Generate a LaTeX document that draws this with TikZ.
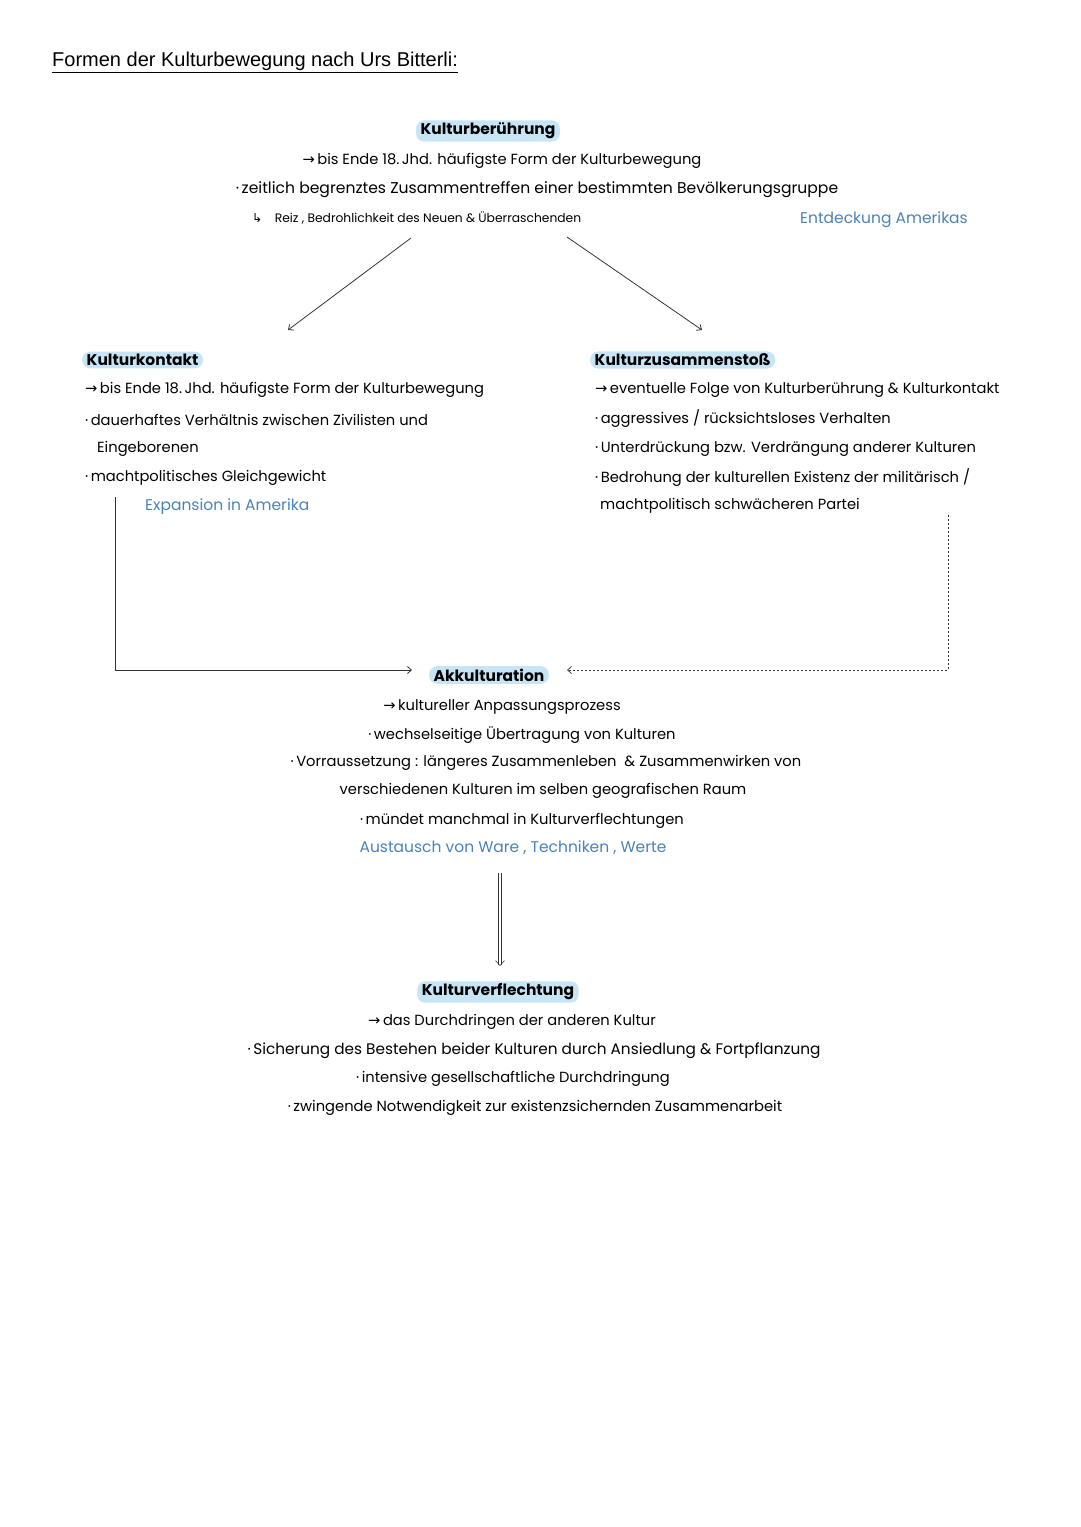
\documentclass[tikz,border=0pt]{standalone}
\usepackage{fontspec}
\setmainfont{Poppins}
\newfontfamily\titlefont{Liberation Sans}
\newfontfamily\sym{DejaVu Sans}
\usetikzlibrary{arrows.meta}
\definecolor{hl}{HTML}{C8E5F5}
\definecolor{note}{HTML}{4A82B6}
\definecolor{ln}{HTML}{333333}
\newcommand{\ar}{{\sym →}\,}
\newcommand{\bu}{·\,}
\begin{document}
\begin{tikzpicture}[x=1pt,y=-1pt,
  body/.style={inner sep=0pt, font=\fontsize{14.7}{17}\selectfont, text=black},
  wide/.style={font=\fontsize{15.6}{18}\selectfont},
  head/.style={fill=hl, rounded corners=8pt, inner xsep=4.5pt, inner ysep=2.5pt, font=\fontsize{15.5}{18}\selectfont\bfseries},
  notetext/.style={inner sep=0pt, font=\fontsize{15.5}{18}\selectfont, text=note},
  smalltext/.style={inner sep=0pt, font=\fontsize{12.3}{14}\selectfont},
  conn/.style={draw=ln, line width=0.8pt, -{Straight Barb[length=4pt,width=7pt]}},
  dconn/.style={draw=ln, line width=0.7pt, dash pattern=on 2pt off 2pt, -{Straight Barb[length=4pt,width=7pt]}},
]
\useasboundingbox (0,0) rectangle (1080,1527);

% title
\node[anchor=west, inner sep=0pt, font=\titlefont\fontsize{20}{23}\selectfont] (title) at (52,62) {\underline{Formen der Kulturbewegung nach Urs Bitterli:}};

% Kulturberuehrung
\node[head] (kb) at (488,131) {Kulturberührung};
\node[body] (kb1) at (502,161) {\ar bis Ende 18.\,Jhd. häufigste Form der Kulturbewegung};
\node[body, wide] (kb2) at (537,190) {\bu zeitlich begrenztes Zusammentreffen einer bestimmten Bevölkerungsgruppe};
\node[smalltext, anchor=west] (kb3) at (252,218) {{\sym ↳}\quad Reiz , Bedrohlichkeit des Neuen \& Überraschenden};
\node[notetext] (kbn) at (884,220) {Entdeckung Amerikas};

% Kulturkontakt
\node[head, anchor=west] (kk) at (82,360) {Kulturkontakt};
\node[body, anchor=west] (kk1) at (85,390) {\ar bis Ende 18.\,Jhd. häufigste Form der Kulturbewegung};
\node[body, anchor=west] (kk2) at (85,420) {\bu dauerhaftes Verhältnis zwischen Zivilisten und};
\node[body, anchor=west] (kk3) at (97,449) {Eingeborenen};
\node[body, anchor=west] (kk4) at (85,478) {\bu machtpolitisches Gleichgewicht};
\node[notetext, anchor=west] (kkn) at (145,507) {Expansion in Amerika};

% Kulturzusammenstoss
\node[head, anchor=west] (kz) at (590,360) {Kulturzusammenstoß};
\node[body, anchor=west] (kz1) at (595,390) {\ar eventuelle Folge von Kulturberührung \& Kulturkontakt};
\node[body, anchor=west] (kz2) at (595,419) {\bu aggressives / rücksichtsloses Verhalten};
\node[body, anchor=west] (kz3) at (595,449) {\bu Unterdrückung bzw. Verdrängung anderer Kulturen};
\node[body, anchor=west] (kz4) at (595,478) {\bu Bedrohung der kulturellen Existenz der militärisch /};
\node[body, anchor=west] (kz5) at (600,506) {machtpolitisch schwächeren Partei};

% Akkulturation
\node[head] (ak) at (489,675) {Akkulturation};
\node[body] (ak1) at (502,707) {\ar kultureller Anpassungsprozess};
\node[body] (ak2) at (522,735) {\bu wechselseitige Übertragung von Kulturen};
\node[body] (ak3) at (546,763) {\bu Vorraussetzung : längeres Zusammenleben \ \& Zusammenwirken von};
\node[body] (ak4) at (543,791) {verschiedenen Kulturen im selben geografischen Raum};
\node[body] (ak5) at (522,821) {\bu mündet manchmal in Kulturverflechtungen};
\node[notetext] (akn) at (513,848) {Austausch von Ware , Techniken , Werte};

% Kulturverflechtung
\node[head] (kv) at (498,992) {Kulturverflechtung};
\node[body] (kv1) at (512,1022) {\ar das Durchdringen der anderen Kultur};
\node[body, font=\fontsize{15.3}{18}\selectfont] (kv2) at (534,1051) {\bu Sicherung des Bestehen beider Kulturen durch Ansiedlung \& Fortpflanzung};
\node[body] (kv3) at (513,1079) {\bu intensive gesellschaftliche Durchdringung};
\node[body] (kv4) at (535,1108) {\bu zwingende Notwendigkeit zur existenzsichernden Zusammenarbeit};

% connector coordinates
\coordinate (s1) at (411,238);
\coordinate (e1) at (288,330);
\coordinate (s2) at (567,237);
\coordinate (e2) at (702,330);
\coordinate (lstart) at (115,497);
\coordinate (lend) at (412,670);
\coordinate (rstart) at (948,515);
\coordinate (rend) at (567,670);
\coordinate (dstart) at (500,873);
\coordinate (dend) at (500,966);

\draw[conn] (s1) -- (e1);
\draw[conn] (s2) -- (e2);
\draw[conn] (lstart) |- (lend);
\draw[dconn] (rstart) |- (rend);
\draw[draw=ln, line width=0.6pt, double, double distance=2pt, -{Straight Barb[length=5pt,width=9pt]}] (dstart) -- (dend);
\end{tikzpicture}
\end{document}
